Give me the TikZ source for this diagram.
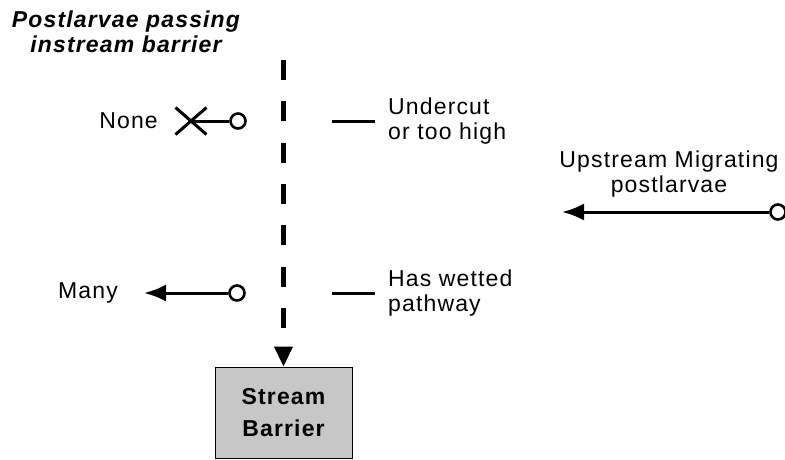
\documentclass[tikz,border=0pt]{standalone}
\usepackage{fontspec}
\setmainfont{Liberation Sans}[LetterSpace=5]
\usetikzlibrary{arrows.meta,shapes.misc}
\tikzset{
  lbl/.style={font=\fontsize{23}{25}\selectfont, inner sep=0pt, align=left},
  ttl/.style={font=\fontsize{23}{25}\selectfont\bfseries\itshape, inner sep=0pt, align=center},
  flow/.style={line width=3pt, -{Latex[length=22pt,width=17pt]}},
  dotnode/.style={circle, draw, line width=2.6pt, minimum size=15pt, inner sep=0pt, fill=white},
  legline/.style={line width=3pt},
  barrier/.style={draw, line width=1pt, fill=black!22, minimum width=137pt, minimum height=91pt, inner sep=0pt,
    align=center, font=\fontsize{23}{32}\selectfont\bfseries},
  passline/.style={line width=4.5pt, dash pattern=on 20pt off 21.3pt, -{Triangle[length=20pt,width=18pt]}}
}
\begin{document}
\begin{tikzpicture}[x=1pt,y=-1pt]
\useasboundingbox (0,0) rectangle (785,459);
% title
\node[ttl] (title) at (126,32) {Postlarvae passing\\instream barrier};
% stream barrier box and dashed arrow
\node[barrier] (sb) at (283.5,412.5) {Stream\\Barrier};
\coordinate (dtop) at (283.5,60);
\draw[passline] (dtop) -- (sb.north);
% row 1 : none
\node[lbl, anchor=east] (none) at (158,121) {None};
\node[draw, cross out, line width=3pt, minimum width=28pt, minimum height=24pt, inner sep=0pt] (x1) at (191,121) {};
\node[dotnode] (c1) at (238,121) {};
\draw[line width=3pt] (c1) -- (x1.center);
\coordinate (l1a) at (332,121);
\coordinate (l1b) at (375,121);
\draw[legline] (l1a) -- (l1b);
\node[lbl, anchor=west] (under) at (388,121) {Undercut\\or too high};
% row 2 : many
\node[lbl, anchor=east] (many) at (118,293) {Many};
\node[dotnode] (c2) at (237,293) {};
\coordinate (manytip) at (144,293);
\draw[flow] (c2) -- (manytip);
\coordinate (l2a) at (332,293);
\coordinate (l2b) at (375,293);
\draw[legline] (l2a) -- (l2b);
\node[lbl, anchor=west] (wet) at (388,293) {Has wetted\\pathway};
% upstream migrating
\node[lbl, align=center] (up) at (669,174) {Upstream Migrating\\postlarvae};
\node[dotnode] (c3) at (778,212) {};
\coordinate (uptip) at (562,212);
\draw[flow] (c3) -- (uptip);
\end{tikzpicture}
\end{document}
